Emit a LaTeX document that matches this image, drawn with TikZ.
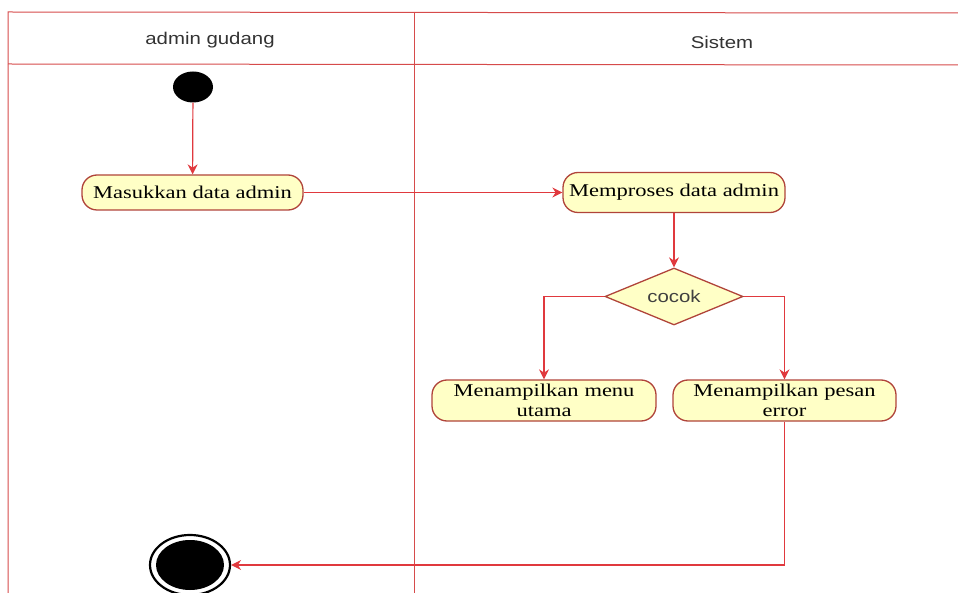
\documentclass[tikz,border=0pt]{standalone}
\usepackage{fontspec}
\setmainfont[FakeStretch=1.25]{Liberation Serif}
\newfontfamily\lanefont[FakeStretch=1.2]{Liberation Sans}
\usetikzlibrary{shapes.geometric,arrows.meta}
\definecolor{laneline}{HTML}{D64B4B}
\definecolor{flowline}{HTML}{E0393E}
\definecolor{actborder}{HTML}{B0443A}
\definecolor{actfill}{HTML}{FFFFC6}
\tikzset{
  lane/.style={draw=laneline, line width=1pt},
  lanetitle/.style={font=\lanefont\fontsize{17}{19}\selectfont, text=black!80},
  action/.style={draw=actborder, fill=actfill, line width=1.3pt, rounded corners=15pt,
    font=\fontsize{18}{19.5}\selectfont, align=center, inner sep=2pt},
  decision/.style={diamond, aspect=2.4, draw=actborder, fill=actfill, line width=1.3pt,
    minimum width=138pt, minimum height=57pt, inner sep=0pt,
    font=\lanefont\fontsize{17}{19}\selectfont, text=black!75},
  flow/.style={draw=flowline, line width=1.2pt, -{Stealth[length=10pt,width=10pt]}},
}
\begin{document}
\begin{tikzpicture}[x=1pt,y=-1pt]
\useasboundingbox (0,0) rectangle (958,593);
% swimlane frame
\draw[lane] (958,13) -- (8,12) -- (8,593);
\draw[lane] (8,64) -- (958,65);
\draw[lane] (414,12) -- (414,593);
\node[lanetitle] (laneA) at (210,40) {admin gudang};
\node[lanetitle] (laneB) at (722,42) {Sistem};
% activity nodes
\node[ellipse, fill=black, minimum width=40pt, minimum height=31pt, inner sep=0pt] (start) at (193,87) {};
\node[action, minimum width=221pt, minimum height=35pt] (a1) at (192.5,192.5) {Masukkan data admin};
\node[action, minimum width=222pt, minimum height=40pt] (a2) at (674,192.5) {Memproses data admin};
\node[decision] (dia) at (674,296.5) {cocok};
\node[action, minimum width=224pt, minimum height=41pt, text width=210pt] (a3) at (544,400.5)
  {Menampilkan menu\\utama};
\node[action, minimum width=223pt, minimum height=41pt, text width=210pt] (a4) at (784.5,400.5)
  {Menampilkan pesan\\error};
\node[ellipse, draw=black, line width=2.2pt, fill=white, minimum width=80pt, minimum height=60pt, inner sep=0pt] (end) at (190,565) {};
\node[ellipse, fill=black, minimum width=68pt, minimum height=50pt, inner sep=0pt] (endcore) at (end.center) {};
% control flow
\draw[flow] (start) -- (a1);
\draw[flow] (a1.east) -- (a2.west);
\draw[flow] (a2.south) -- (dia.north);
\draw[flow] (dia.west) -| (a3.north);
\draw[flow] (dia.east) -| (a4.north);
\draw[flow] (a4.south) |- (end.east);
\end{tikzpicture}
\end{document}
